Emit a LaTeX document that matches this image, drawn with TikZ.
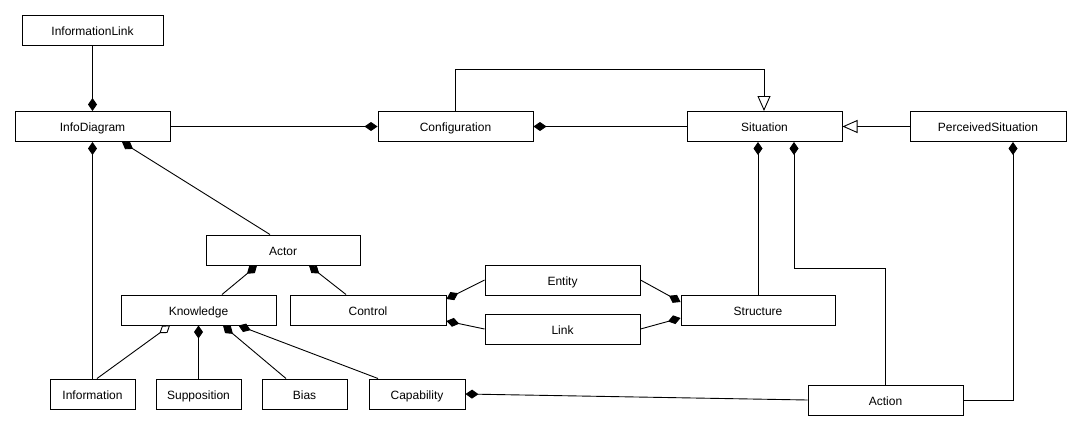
\documentclass[tikz,border=0pt]{standalone}
\usepackage{fontspec}
\setmainfont{Liberation Sans}
\usetikzlibrary{arrows.meta}
\begin{document}
\begin{tikzpicture}[x=1pt,y=-1pt,
  cls/.style={draw,line width=1pt,minimum height=30pt,inner sep=0pt,text height=11pt,text depth=0.5pt,font=\fontsize{12}{14}\selectfont},
  comp/.style={line width=0.9pt,-{Diamond[length=13pt,width=9pt]}},
  agg/.style={line width=0.9pt,-{Diamond[open,fill=white,length=13pt,width=9pt]}},
  gen/.style={line width=0.9pt,-{Triangle[open,fill=white,length=15pt,width=13pt]}}]
\useasboundingbox (0,0) rectangle (1081,431);
\node[cls,minimum width=141pt] (ilink) at (92.5,30) {InformationLink};
\node[cls,minimum width=155pt] (idiag) at (92.5,126.5) {InfoDiagram};
\node[cls,minimum width=155pt] (conf) at (455.5,126.5) {Configuration};
\node[cls,minimum width=155pt] (sit) at (764.5,126.5) {Situation};
\node[cls,minimum width=156pt] (psit) at (988,126.5) {PerceivedSituation};
\node[cls,minimum width=154pt] (actor) at (283,250) {Actor};
\node[cls,minimum width=155pt] (know) at (198.5,310) {Knowledge};
\node[cls,minimum width=156pt] (ctrl) at (368,310) {Control};
\node[cls,minimum width=85pt] (info) at (92.5,394) {Information};
\node[cls,minimum width=85pt] (supp) at (198.5,394) {Supposition};
\node[cls,minimum width=85pt] (bias) at (304.5,394) {Bias};
\node[cls,minimum width=96pt] (cap) at (417,394) {Capability};
\node[cls,minimum width=155pt] (ent) at (562.5,280) {Entity};
\node[cls,minimum width=155pt] (link) at (562.5,329) {Link};
\node[cls,minimum width=154pt] (struct) at (758,310) {Structure};
\node[cls,minimum width=155pt] (act) at (885.5,400) {Action};

\draw[comp] (ilink.south) -- (idiag.north);
\draw[comp] (idiag.east) -- (conf.west);
\draw[comp] (sit.west) -- (conf.east);
\draw[gen] (conf.north) -- ++(0,-42) -| ([xshift=-0.5pt]sit.north);
\draw[gen] (psit.west) -- (sit.east);
\draw[comp] (info.north) -- (idiag.south);
\draw[comp] ([xshift=-13pt]actor.north) -- ([xshift=29.5pt]idiag.south);
\draw[comp] ([xshift=23.5pt]know.north) -- ([xshift=-26pt]actor.south);
\draw[comp] ([xshift=-22pt]ctrl.north) -- ([xshift=26pt]actor.south);
\draw[agg] ([xshift=4.5pt]info.north) -- ([xshift=-28.5pt]know.south);
\draw[comp] (supp.north) -- (know.south);
\draw[comp] ([xshift=-18.5pt]bias.north) -- ([xshift=24.5pt]know.south);
\draw[comp] ([xshift=-39pt]cap.north) -- ([xshift=40pt]know.south);
\draw[comp] (act.west) -- (cap.east);
\draw[comp] (ent.west) -- ([yshift=11pt]ctrl.east);
\draw[comp] (link.west) -- ([yshift=-11pt]ctrl.east);
\draw[comp] (ent.east) -- ([yshift=8pt]struct.west);
\draw[comp] (link.east) -- ([yshift=-8pt]struct.west);
\draw[comp] (struct.north) -- ([xshift=-6.5pt]sit.south);
\draw[comp] (act.north) -- ++(0,-116) -| ([xshift=29.5pt]sit.south);
\draw[comp] (act.east) -| ([xshift=25pt]psit.south);
\end{tikzpicture}
\end{document}
